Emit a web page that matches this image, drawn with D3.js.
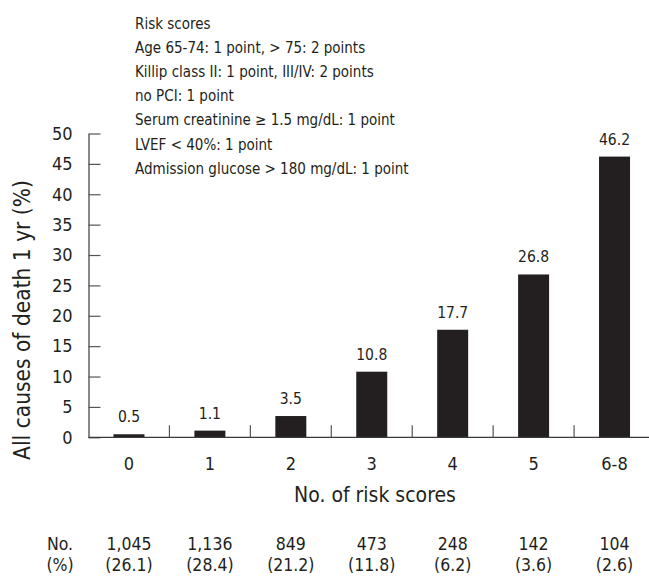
<!DOCTYPE html>
<html>
<head>
<meta charset="utf-8">
<script src="https://cdn.jsdelivr.net/npm/d3@7"></script>
<style>
  html, body { margin: 0; padding: 0; background: #fff; }
  svg { display: block; }
  text { font-family: "DejaVu Sans Condensed", "Liberation Sans Narrow", sans-serif; fill: #231f20; }
</style>
</head>
<body>
<svg id="chart" width="649" height="577"></svg>
<script>
const categories = ["0", "1", "2", "3", "4", "5", "6-8"];
const mortality = [0.5, 1.1, 3.5, 10.8, 17.7, 26.8, 46.2];
const valueLabels = ["0.5", "1.1", "3.5", "10.8", "17.7", "26.8", "46.2"];
const patientCounts = ["1,045", "1,136", "849", "473", "248", "142", "104"];
const patientPercents = ["(26.1)", "(28.4)", "(21.2)", "(11.8)", "(6.2)", "(3.6)", "(2.6)"];
const yTicks = [0, 5, 10, 15, 20, 25, 30, 35, 40, 45, 50];
const noteLines = [
  "Risk scores",
  "Age 65-74: 1 point, > 75: 2 points",
  "Killip class II: 1 point, III/IV: 2 points",
  "no PCI: 1 point",
  "Serum creatinine \u2265 1.5 mg/dL: 1 point",
  "LVEF < 40%: 1 point",
  "Admission glucose > 180 mg/dL: 1 point"
];
const yTitle = "All causes of death 1 yr (%)";
const xTitle = "No. of risk scores";
const rowHeads = ["No.", "(%)"];

const FONT = "'DejaVu Sans Condensed', 'Liberation Sans Narrow', sans-serif";
const svg = d3.select("#chart");
const ink = "#231f20";
const axisInk = "#3a3a3a";

const x = d3.scaleBand().domain(categories).range([88.5, 655]).paddingInner(0.617).paddingOuter(0.3085);
const y = d3.scaleLinear().domain([0, 50]).range([437.3, 133.5]);

// Bars
svg.append("g").selectAll("rect").data(mortality).join("rect")
  .attr("x", (d, i) => x(categories[i]))
  .attr("y", d => y(d))
  .attr("width", x.bandwidth())
  .attr("height", d => y(0) - y(d))
  .attr("fill", ink);

// Value labels
svg.append("g").selectAll("text").data(mortality).join("text")
  .attr("x", (d, i) => x(categories[i]) + x.bandwidth() / 2)
  .attr("y", d => y(d) - 12)
  .attr("text-anchor", "middle")
  .attr("font-size", 15.5)
  .text((d, i) => valueLabels[i]);

// Y axis
const yAxis = d3.axisLeft(y).tickValues(yTicks).tickSizeInner(-12).tickSizeOuter(0).tickPadding(16);
const gy = svg.append("g").attr("transform", "translate(88.5,0)").call(yAxis);
gy.select(".domain").attr("stroke", axisInk).attr("stroke-width", 1.2);
gy.selectAll(".tick line").attr("stroke", "#555").attr("stroke-width", 1.2);
gy.selectAll(".tick text").attr("font-size", 18).attr("fill", ink).style("font-family", FONT);

// X axis
const xAxis = d3.axisBottom(x).tickSize(0).tickPadding(20);
const gx = svg.append("g").attr("transform", `translate(0,${y(0)})`).call(xAxis);
gx.select(".domain").remove();
gx.selectAll(".tick text").attr("font-size", 18).attr("fill", ink).style("font-family", FONT);
svg.append("line")
  .attr("x1", 88.5).attr("x2", 649).attr("y1", y(0)).attr("y2", y(0))
  .attr("stroke", axisInk).attr("stroke-width", 1.2);
const sep = x.step() * x.paddingInner() / 2;
svg.append("g").selectAll("line").data(categories.slice(1)).join("line")
  .attr("x1", d => x(d) - sep).attr("x2", d => x(d) - sep)
  .attr("y1", y(0)).attr("y2", y(0) - 12)
  .attr("stroke", "#555").attr("stroke-width", 1.2);

// Axis titles
svg.append("text")
  .attr("transform", "translate(30,320) rotate(-90)")
  .attr("text-anchor", "middle")
  .attr("font-size", 22.5)
  .text(yTitle);
svg.append("text")
  .attr("x", 375).attr("y", 502)
  .attr("text-anchor", "middle")
  .attr("font-size", 21)
  .text(xTitle);

// Note block
svg.append("g").selectAll("text").data(noteLines).join("text")
  .attr("x", 135)
  .attr("y", (d, i) => 29 + i * 24.1)
  .attr("font-size", 15)
  .text(d => d);

// Bottom table
const rowY = [550, 571];
svg.append("g").selectAll("text").data(rowHeads).join("text")
  .attr("x", 60).attr("y", (d, i) => rowY[i])
  .attr("text-anchor", "middle").attr("font-size", 17.5)
  .text(d => d);
svg.append("g").selectAll("text").data(patientCounts).join("text")
  .attr("x", (d, i) => x(categories[i]) + x.bandwidth() / 2).attr("y", rowY[0])
  .attr("text-anchor", "middle").attr("font-size", 17.5)
  .text(d => d);
svg.append("g").selectAll("text").data(patientPercents).join("text")
  .attr("x", (d, i) => x(categories[i]) + x.bandwidth() / 2).attr("y", rowY[1])
  .attr("text-anchor", "middle").attr("font-size", 17.5)
  .text(d => d);
</script>
</body>
</html>
